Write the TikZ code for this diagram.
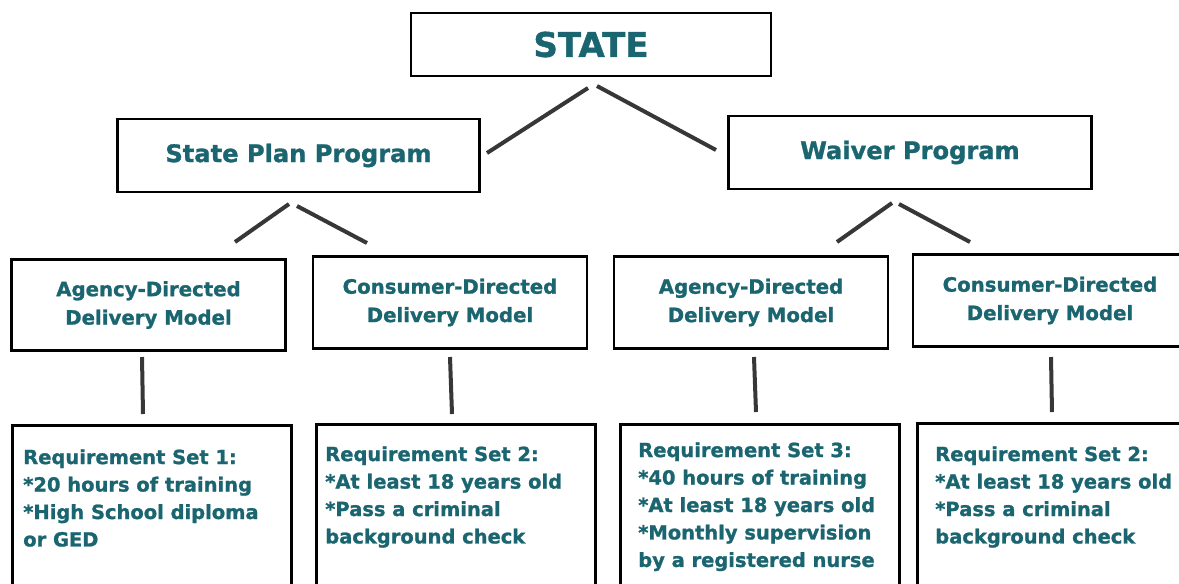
\documentclass[tikz,border=0pt]{standalone}
\usepackage{fontspec}
\setmainfont[BoldFeatures={FakeBold=1.2}]{DejaVu Sans}
\usetikzlibrary{positioning,calc}
\definecolor{orgteal}{RGB}{26,101,112}
\definecolor{linkgrey}{RGB}{55,55,55}

\begin{document}
\begin{tikzpicture}[x=.75pt,y=-.75pt,
  box/.style={draw=black,line width=2.2pt,inner sep=0pt,text=orgteal,align=center},
  head/.style={box,font=\bfseries\fontsize{18.1}{21}\selectfont,minimum width=272pt,minimum height=54.75pt},
  model/.style={box,font=\bfseries\fontsize{14.8}{21.3}\selectfont,minimum width=205.5pt,minimum height=68.5pt},
  reqbox/.style={box,anchor=north west,minimum width=209pt,minimum height=140pt},
  reqtext/.style={anchor=north west,inner sep=0pt,align=left,text=orgteal,font=\bfseries\fontsize{14.6}{20.6}\selectfont},
  link/.style={draw=linkgrey,line width=3pt}]
  \path[use as bounding box] (0,0) rectangle (1179,583);

  % top and programs
  \node[box,minimum width=270pt,minimum height=47.25pt,font=\bfseries\fontsize{25.5}{28}\selectfont] (state) at (591,44.5) {STATE};
  \node[head] (plan) at (298.5,155.5) {State Plan Program};
  \node[head] (waiver) at (910,152.5) {Waiver Program};

  % delivery models
  \node[model] (agencyA) at (148.5,305) {Agency-Directed\\Delivery Model};
  \node[model] (consumerA) at (450,302.5) {Consumer-Directed\\Delivery Model};
  \node[model] (agencyB) at (751,302.5) {Agency-Directed\\Delivery Model};
  \node[model] (consumerB) at (1050,300.5) {Consumer-Directed\\Delivery Model};

  % requirement sets
  \node[reqbox] (reqA) at (11,424) {};
  \node[reqbox] (reqB) at (315,423) {};
  \node[reqbox] (reqC) at (619,423) {};
  \node[reqbox] (reqD) at (916,422) {};
  \node[reqtext] (reqAtext) at (23,449) {Requirement Set 1:\\*20 hours of training\\*High School diploma\\or GED};
  \node[reqtext] (reqBtext) at (325,446) {Requirement Set 2:\\*At least 18 years old\\*Pass a criminal\\background check};
  \node[reqtext] (reqCtext) at (638,442) {Requirement Set 3:\\*40 hours of training\\*At least 18 years old\\*Monthly supervision\\by a registered nurse};
  \node[reqtext] (reqDtext) at (935,446) {Requirement Set 2:\\*At least 18 years old\\*Pass a criminal\\background check};

  % branch ends
  \coordinate (stL1) at (588,88);  \coordinate (stL2) at (487,153);
  \coordinate (stR1) at (597,86);  \coordinate (stR2) at (716,150);
  \coordinate (plL1) at (289,204); \coordinate (plL2) at (235,242);
  \coordinate (plR1) at (297,206); \coordinate (plR2) at (367,243);
  \coordinate (waL1) at (892,203); \coordinate (waL2) at (837,242);
  \coordinate (waR1) at (899,204); \coordinate (waR2) at (970,242);
  \coordinate (agA1) at (142,357); \coordinate (agA2) at (143,414);
  \coordinate (coA1) at (450,357); \coordinate (coA2) at (452,414);
  \coordinate (agB1) at (754,357); \coordinate (agB2) at (756,412);
  \coordinate (coB1) at (1051,357); \coordinate (coB2) at (1052,412);

  \foreach \a/\b in {stL1/stL2,stR1/stR2,plL1/plL2,plR1/plR2,waL1/waL2,waR1/waR2,agA1/agA2,coA1/coA2,agB1/agB2,coB1/coB2}
    \draw[link] (\a)--(\b);
\end{tikzpicture}
\end{document}
